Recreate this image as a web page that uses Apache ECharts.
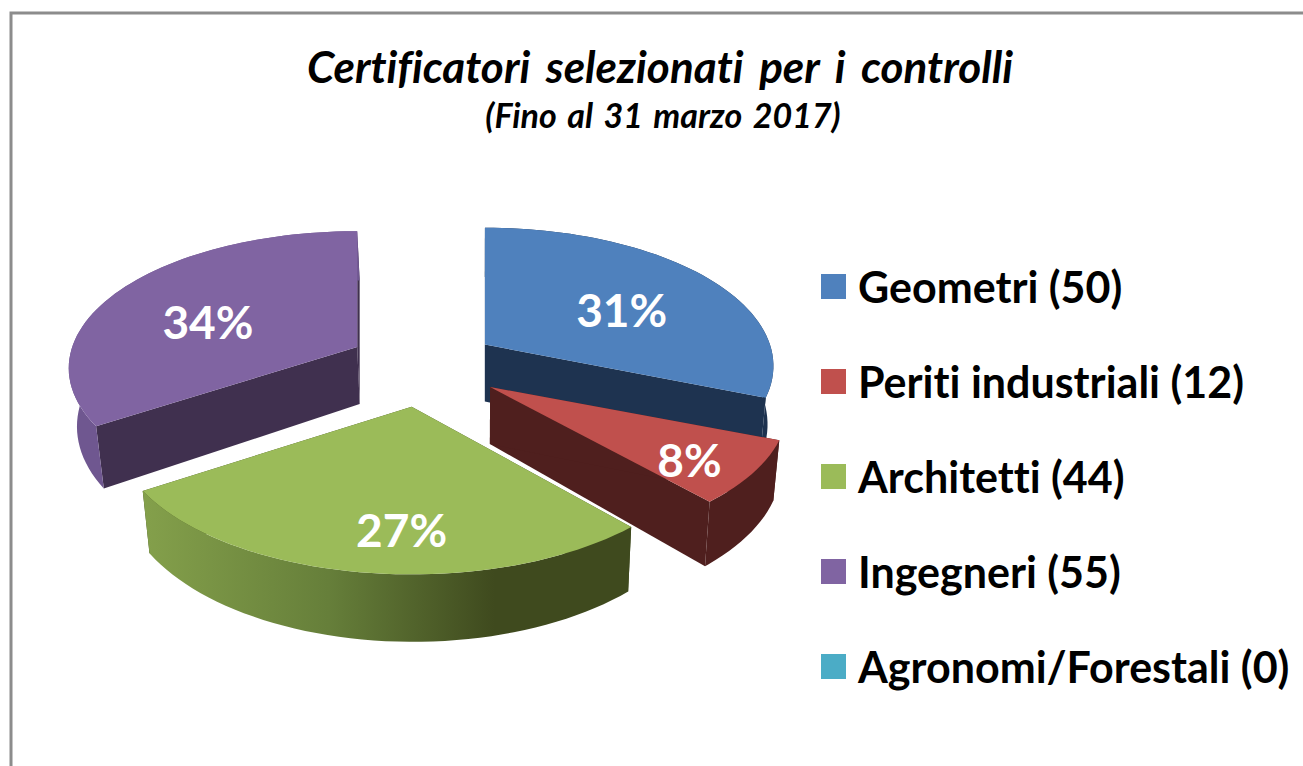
<!DOCTYPE html>
<html>
<head>
<meta charset="utf-8">
<style>
html, body { margin: 0; padding: 0; background: #fff; }
#main { width: 1303px; height: 766px; }
#main text { font-variant-ligatures: none !important; }
#main text[style*="44px"] { word-spacing: 6px; }
#main text[style*="34px"] { word-spacing: 3px; }
</style>
<script src="https://cdn.jsdelivr.net/npm/echarts@6/dist/echarts.min.js"></script>
</head>
<body>
<div id="main"></div>
<script>
// dati del grafico
var categories = ['Geometri', 'Periti industriali', 'Architetti', 'Ingegneri', 'Agronomi/Forestali'];
var values = [50, 12, 44, 55, 0];
var percentLabels = ['31%', '8%', '27%', '34%', '0%'];
var colors = ['#4f81bd', '#c0504d', '#9bbb59', '#8064a2', '#4bacc6'];
var wallColors = ['#1e3350', '#4f1f1e', '#3f4a1e', '#40304f', '#2b6575'];
var arcWallColors = ['#1e3350', '#4f1f1e', '#3f4a1e', '#6f5790', '#2b6575'];
// ordine di disegno: dal fondo verso il davanti
var drawOrder = [3, 0, 1, 2, 4];

// ritocchi per fetta (la prospettiva dell'originale non e' regolare)
var scaleX = [1.0, 1.03, 1.03, 1, 1];
var scaleY = [1, 1, 1.05, 0.99, 1];
var nudgeX = [0, 6, 0, 2, 0];
var nudgeY = [0, -3, 0, -1, 0];
// posizione delle etichette, frazione del raggio su x e y
var labelFx = [0.63, 0.78, 0.22, 0.64, 0];
var labelFy = [0.5, 0.85, 0.78, 0.43, 0];

// geometria della torta in prospettiva
var cx = 422, cy = 367;
var explodeX = 76, explodeY = 40;
var rx = 285, ry = 135, persp = 0.155;
var depth = 57, vanishX = 480, converge = 0.02;

var total = values.reduce(function (a, b) { return a + b; }, 0);

function rad(deg) { return deg * Math.PI / 180; }

function startAngle(idx) {
    var sum = 0;
    for (var i = 0; i < idx; i++) sum += values[i];
    return sum / total * 360;
}

// punto sul bordo (o a frazione fx/fy) relativo all'apice della fetta
function rimOffset(deg, fx, fy) {
    var c = Math.cos(rad(deg)), s = Math.sin(rad(deg));
    var k = 1 / (1 + persp * c);
    return [rx * s * k * fx, -ry * c * k * fy, k];
}

function lower(p, k) {
    return [p[0] + (vanishX - p[0]) * converge, p[1] + depth * (k || 1)];
}

function renderSlice(idx) {
    return function (params, api) {
        var value = api.value(0);
        if (!value) return null;
        var a0 = startAngle(idx);
        var a1 = a0 + value / total * 360;
        var mid = (a0 + a1) / 2;
        var ax = cx + explodeX * Math.sin(rad(mid)) + nudgeX[idx];
        var ay = cy - explodeY * Math.cos(rad(mid)) + nudgeY[idx];

        var apex = [ax, ay];
        var top = [apex];
        var arc = [];
        var arcBottom = [];
        for (var d = a0; ; d += 2) {
            var t = Math.min(d, a1);
            var o = rimOffset(t, scaleX[idx], scaleY[idx]);
            var p = [ax + o[0], ay + o[1]];
            top.push(p);
            arc.push(p);
            arcBottom.unshift(lower(p, o[2]));
            if (t >= a1) break;
        }
        var apexLow = lower(apex, 1);
        var first = arc[0], last = arc[arc.length - 1];
        var firstLow = arcBottom[arcBottom.length - 1], lastLow = arcBottom[0];

        var arcFill = arcWallColors[idx];
        if (idx === 2) {
            arcFill = new echarts.graphic.LinearGradient(0, 0, 1, 0, [
                { offset: 0, color: '#84a04b' },
                { offset: 0.38, color: '#667f3a' },
                { offset: 0.72, color: '#3f4a1e' },
                { offset: 1, color: '#3f4a1e' }
            ]);
        }
        var lab = rimOffset(mid, labelFx[idx], labelFy[idx]);

        return {
            type: 'group',
            children: [
                { type: 'polygon', shape: { points: [apex, last, lastLow, apexLow] }, style: { fill: wallColors[idx] } },
                { type: 'polygon', shape: { points: [apex, first, firstLow, apexLow] }, style: { fill: wallColors[idx] } },
                { type: 'polygon', shape: { points: arc.concat(arcBottom) }, style: { fill: arcFill } },
                { type: 'polygon', shape: { points: top }, style: { fill: colors[idx] } },
                {
                    type: 'text',
                    x: ax + lab[0],
                    y: ay + lab[1],
                    style: {
                        text: percentLabels[idx],
                        fill: '#fff',
                        font: 'bold 46px Lato',
                        align: 'center',
                        verticalAlign: 'middle'
                    }
                }
            ]
        };
    };
}

var series = drawOrder.map(function (idx, order) {
    return {
        type: 'custom',
        name: categories[idx],
        z: 2 + order,
        coordinateSystem: 'none',
        silent: true,
        itemStyle: { color: colors[idx] },
        data: [[values[idx]]],
        renderItem: renderSlice(idx)
    };
});

var chart = echarts.init(document.getElementById('main'), null, { renderer: 'svg' });
var option = {
    animation: false,
    backgroundColor: '#fff',
    title: [{
        text: 'Certificatori selezionati per i controlli',
        left: 655,
        top: 39,
        textAlign: 'center',
        textStyle: { fontFamily: 'Lato', fontStyle: 'italic', fontWeight: 'bold', fontSize: 44, color: '#000' }
    }, {
        text: '(Fino al 31 marzo 2017)',
        left: 658,
        top: 92,
        textAlign: 'center',
        textStyle: { fontFamily: 'Lato', fontStyle: 'italic', fontWeight: 'bold', fontSize: 34, color: '#000' }
    }],
    legend: {
        orient: 'vertical',
        left: 816,
        top: 260,
        itemWidth: 25,
        itemHeight: 25,
        itemGap: 52,
        icon: 'rect',
        selectedMode: false,
        data: categories,
        formatter: function (name) {
            return name + ' (' + values[categories.indexOf(name)] + ')';
        },
        textStyle: {
            fontFamily: 'Lato',
            fontWeight: 'bold',
            fontSize: 43,
            lineHeight: 25,
            color: '#000',
            padding: [0, 0, 0, 7]
        }
    },
    graphic: [{
        type: 'polyline',
        silent: true,
        shape: { points: [[11, 766], [11, 13], [1303, 13]] },
        style: { stroke: '#8c8c8c', lineWidth: 3, fill: null }
    }],
    series: series
};
chart.setOption(option);
</script>
</body>
</html>
